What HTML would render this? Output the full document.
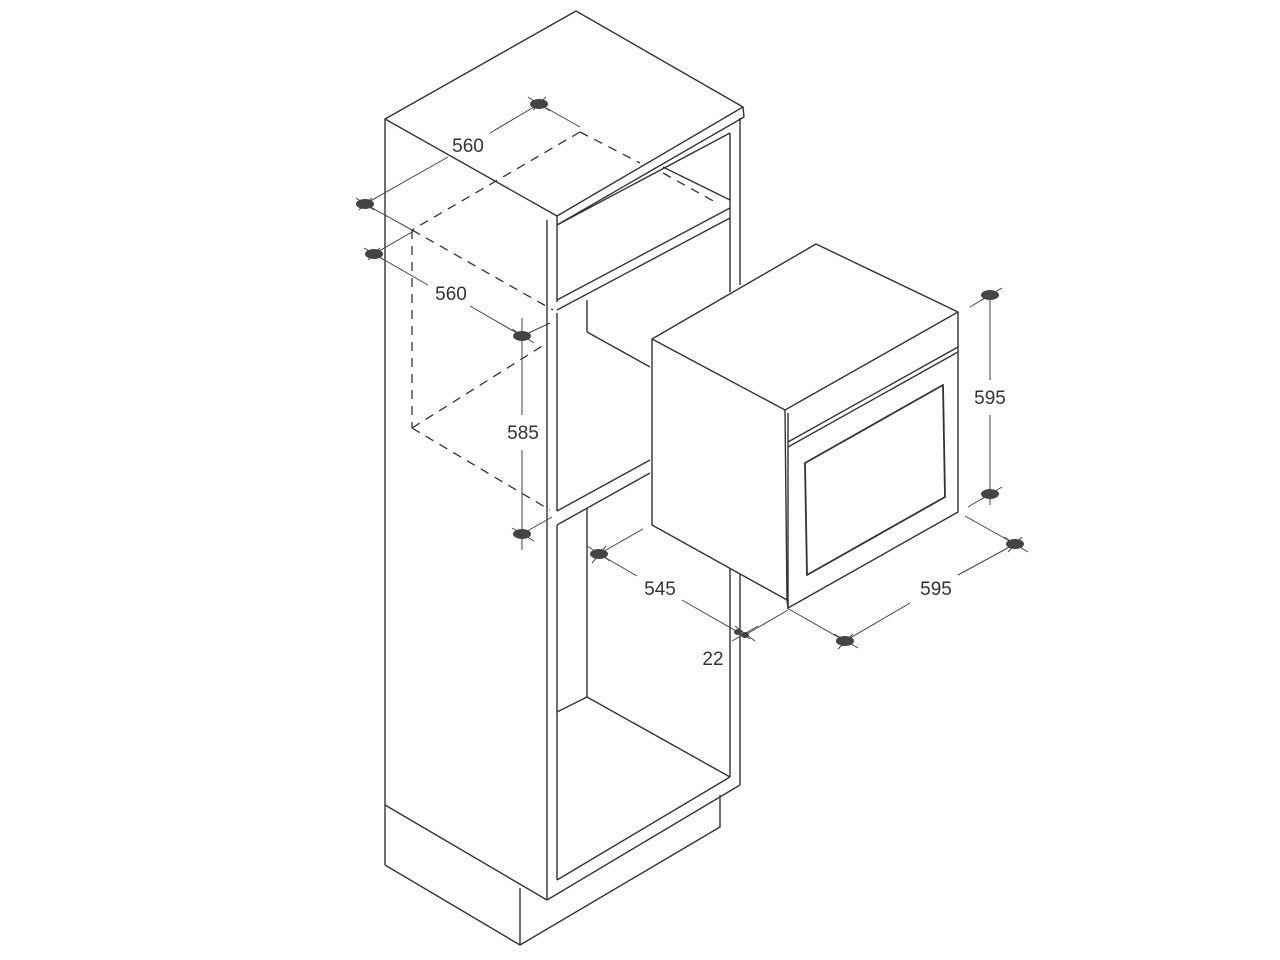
<!DOCTYPE html>
<html><head><meta charset="utf-8"><style>
html,body{margin:0;padding:0;background:#fff;width:1280px;height:960px;overflow:hidden}
svg{display:block}
text{font-family:"Liberation Sans",sans-serif;font-size:19px;fill:#333;text-anchor:middle}
</style></head><body>
<svg width="1280" height="960" viewBox="0 0 1280 960" xmlns="http://www.w3.org/2000/svg">
<g stroke="#333" stroke-width="1.4" fill="none" stroke-linejoin="round">
<polygon points="385,119 576,11 743,107 557,216" fill="#fff"/>
<polyline points="743,107 744,117 557,225 557,216"/>
<line x1="385" y1="119" x2="385" y2="865"/>
<line x1="385" y1="805" x2="547" y2="900"/>
<polyline points="385,865 520,945 720,827 720,795"/>
<line x1="520" y1="888" x2="520" y2="945"/>
<line x1="547" y1="220" x2="547" y2="900"/>
<line x1="557" y1="225" x2="730" y2="133"/>
<line x1="740" y1="118" x2="740" y2="285"/>
<line x1="730" y1="133" x2="730" y2="292"/>
<line x1="740" y1="570" x2="740" y2="785"/>
<line x1="730" y1="567" x2="730" y2="777"/>
<line x1="547" y1="900" x2="740" y2="785"/>
<line x1="557" y1="880" x2="730" y2="777"/>
<line x1="557" y1="225" x2="557" y2="302"/>
<line x1="663" y1="167" x2="730" y2="200"/>
<line x1="557" y1="300" x2="730" y2="208"/>
<line x1="557" y1="310" x2="730" y2="218"/>
<line x1="557" y1="313" x2="557" y2="511"/>
<line x1="587" y1="300" x2="587" y2="332"/>
<line x1="587" y1="332" x2="650" y2="367"/>
<line x1="557" y1="511" x2="650" y2="460"/>
<line x1="557" y1="525" x2="650" y2="473"/>
<line x1="557" y1="525" x2="557" y2="880"/>
<line x1="587" y1="508" x2="587" y2="697"/>
<line x1="587" y1="697" x2="730" y2="777"/>
<line x1="587" y1="697" x2="557" y2="712"/>
</g>
<g stroke="#333" stroke-width="1.3" fill="none" stroke-dasharray="9,7">
<line x1="580" y1="132" x2="412" y2="230"/>
<line x1="580" y1="132" x2="640" y2="163"/>
<line x1="663" y1="173" x2="717" y2="203"/>
<line x1="412" y1="230" x2="553" y2="310"/>
<line x1="412" y1="230" x2="412" y2="428"/>
<line x1="412" y1="428" x2="547" y2="343"/>
<line x1="412" y1="428" x2="550" y2="510"/>
</g>
<g stroke="#333" stroke-width="1.4" fill="#fff" stroke-linejoin="round">
<polygon points="652,339 816,244 958,312 958,512 788,608 787,600 652,525"/>
<line x1="652" y1="339" x2="785" y2="410"/>
<line x1="785" y1="410" x2="787" y2="600"/>
<polyline points="785,410 958,312" fill="none"/>
<line x1="788" y1="413" x2="788" y2="608"/>
<line x1="788" y1="442" x2="958" y2="347"/>
<line x1="788" y1="447" x2="958" y2="352"/>
<polygon points="805,463 943,385 945,497 807,575" fill="none" stroke-width="1.8"/>
</g>
<g stroke="#444" stroke-width="1" fill="none">
<line x1="539" y1="104" x2="580" y2="127"/>
<line x1="365" y1="204" x2="412" y2="230"/>
<line x1="365" y1="204" x2="448" y2="157"/>
<line x1="490" y1="133" x2="539" y2="104"/>
<line x1="374" y1="254" x2="412" y2="232"/>
<line x1="374" y1="254" x2="428" y2="285"/>
<line x1="470" y1="306" x2="522" y2="336"/>
<line x1="522" y1="336" x2="550" y2="323"/>
<line x1="522" y1="326" x2="522" y2="415"/>
<line x1="522" y1="450" x2="522" y2="548"/>
<line x1="522" y1="534" x2="552" y2="517"/>
<line x1="599" y1="554" x2="643" y2="529"/>
<line x1="599" y1="554" x2="637" y2="576"/>
<line x1="682" y1="600" x2="750" y2="639"/>
<line x1="745" y1="635" x2="788" y2="610"/>
<line x1="845" y1="641" x2="787" y2="608"/>
<line x1="845" y1="641" x2="910" y2="603"/>
<line x1="958" y1="575" x2="1015" y2="544"/>
<line x1="1015" y1="544" x2="965" y2="516"/>
<line x1="990" y1="290" x2="990" y2="380"/>
<line x1="990" y1="415" x2="990" y2="505"/>
<line x1="990" y1="295" x2="970" y2="307"/>
<line x1="990" y1="494" x2="968" y2="507"/>
<line x1="528" y1="97" x2="550" y2="111"/><line x1="533" y1="110" x2="546" y2="97"/>
<line x1="356" y1="198" x2="374" y2="210"/><line x1="359" y1="210" x2="372" y2="198"/>
<line x1="364" y1="248" x2="384" y2="260"/><line x1="368" y1="260" x2="380" y2="248"/>
<line x1="512" y1="329" x2="534" y2="343"/><line x1="522" y1="318" x2="522" y2="346"/>
<line x1="512" y1="528" x2="534" y2="541"/><line x1="522" y1="525" x2="522" y2="550"/>
<line x1="587" y1="546" x2="610" y2="561"/><line x1="592" y1="563" x2="606" y2="546"/>
<line x1="732" y1="641" x2="758" y2="626"/><line x1="735" y1="626" x2="755" y2="641"/>
<line x1="834" y1="634" x2="858" y2="648"/><line x1="838" y1="649" x2="853" y2="634"/>
<line x1="1004" y1="537" x2="1028" y2="552"/><line x1="1008" y1="552" x2="1022" y2="537"/>
<line x1="980" y1="301" x2="1002" y2="288"/><line x1="980" y1="500" x2="1002" y2="487"/>
</g>
<g fill="#444">
<ellipse cx="539" cy="104" rx="9" ry="5"/>
<ellipse cx="365" cy="204" rx="9" ry="5"/>
<ellipse cx="374" cy="254" rx="9" ry="5"/>
<ellipse cx="522" cy="336" rx="9" ry="5"/>
<ellipse cx="522" cy="534" rx="9" ry="5"/>
<ellipse cx="599" cy="554" rx="9" ry="5"/>
<ellipse cx="738" cy="632" rx="4" ry="3"/>
<ellipse cx="745" cy="635" rx="4" ry="3"/>
<ellipse cx="845" cy="641" rx="9" ry="5"/>
<ellipse cx="1015" cy="544" rx="9" ry="5"/>
<ellipse cx="990" cy="295" rx="9" ry="5"/>
<ellipse cx="990" cy="494" rx="9" ry="5"/>
</g>
<text x="468" y="152">560</text>
<text x="451" y="300">560</text>
<text x="523" y="439">585</text>
<text x="660" y="595">545</text>
<text x="713" y="665">22</text>
<text x="936" y="595">595</text>
<text x="990" y="404">595</text>
</svg>
</body></html>
